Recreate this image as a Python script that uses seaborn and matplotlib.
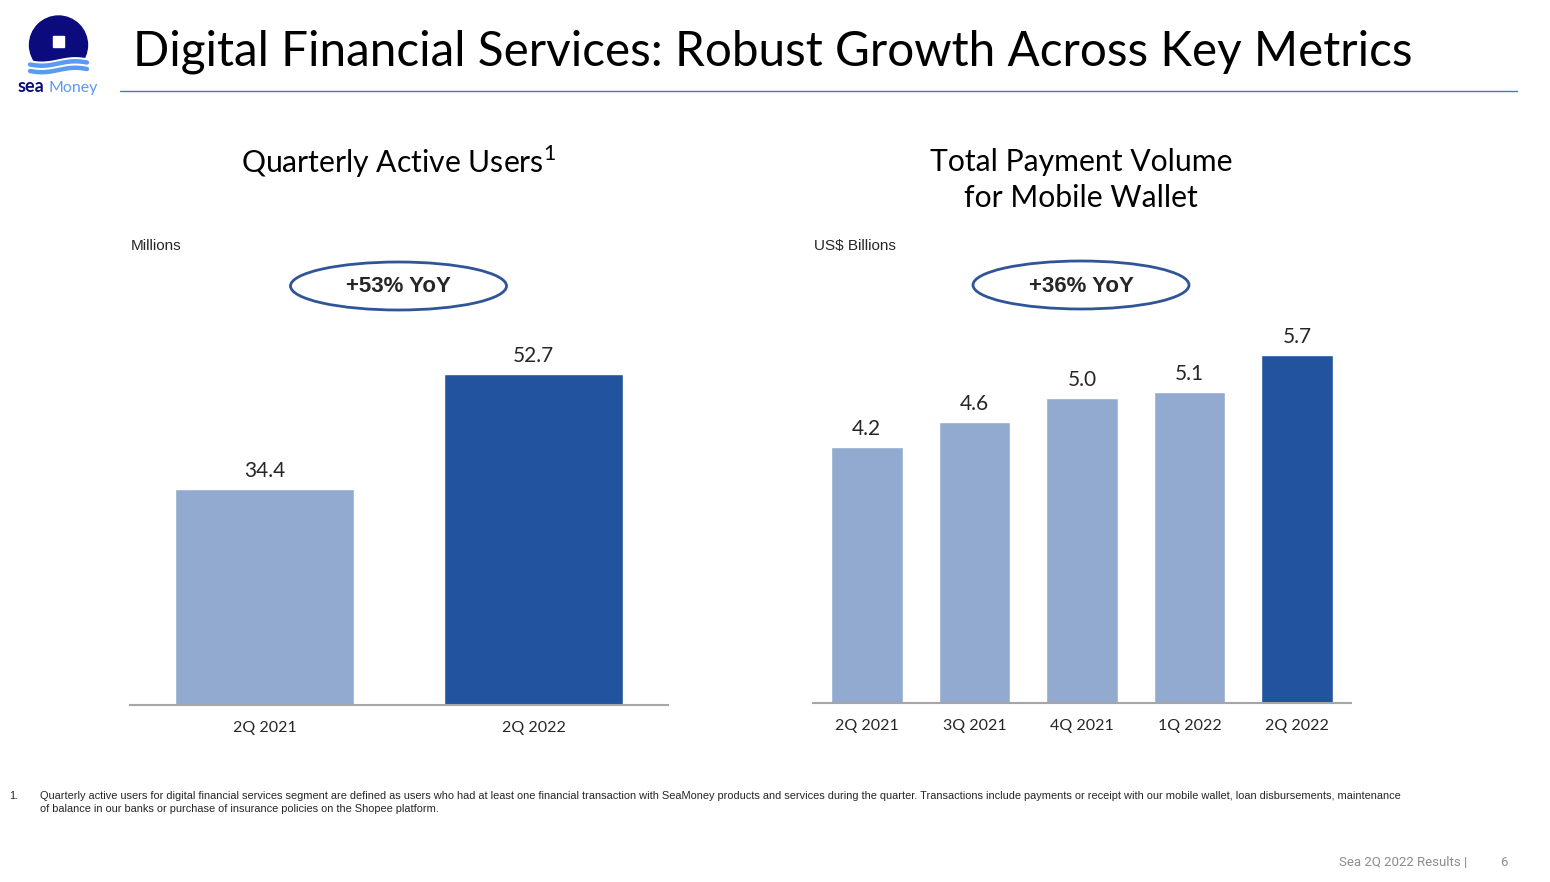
import numpy as np
import pandas as pd
import matplotlib
matplotlib.use('Agg')
import matplotlib.pyplot as plt
from matplotlib.patches import Ellipse, Circle, Rectangle, Polygon
import seaborn as sns

# data
qau_quarters = ['2Q 2021', '2Q 2022']
qau_values = [34.4, 52.7]          # millions of users
tpv_quarters = ['2Q 2021', '3Q 2021', '4Q 2021', '1Q 2022', '2Q 2022']
tpv_values = [4.2, 4.6, 5.0, 5.1, 5.7]   # US$ billions
qau_growth = '+53% YoY'
tpv_growth = '+36% YoY'

LIGHT = '#92AACF'
DARK = '#22539E'
NAVY = '#0B0B7E'
SKY = '#5A9BF2'

sns.set_theme(style='white')
plt.rcParams['font.family'] = ['Lato', 'DejaVu Sans']
plt.rcParams['mathtext.fontset'] = 'custom'
plt.rcParams['mathtext.rm'] = 'Lato'

W, H = 1550, 882
fig = plt.figure(figsize=(W / 100, H / 100), dpi=100)
fig.patch.set_facecolor('white')

# overlay in pixel coordinates for slide decoration
deco = fig.add_axes([0, 0, 1, 1])
deco.set_xlim(0, W)
deco.set_ylim(H, 0)
deco.axis('off')

deco.text(133, 52, 'Digital Financial Services: Robust Growth Across Key Metrics',
          fontsize=34.3, va='center', ha='left', color='black')
deco.plot([120, 1517], [91, 91], color='#4F72C0', lw=1)

# logo
deco.add_patch(Circle((58.5, 45), 29, color=NAVY, zorder=2))
xs = np.linspace(25, 92, 80)
wave_top = 60 + 2.2 * np.sin((xs - 25) / 67 * 2 * np.pi)
deco.add_patch(Polygon(np.column_stack([np.r_[xs, xs[::-1]], np.r_[wave_top, np.full_like(xs, 80)]]),
                       color='white', zorder=3))
deco.add_patch(Rectangle((53, 36), 11, 11, color='white', zorder=4))
for off in (3.5, 10):
    deco.plot(xs[6:-6], wave_top[6:-6] + off, color=SKY, lw=3.2, solid_capstyle='round', zorder=4)
deco.text(18, 87, 'sea', fontsize=13, fontweight='bold', color=NAVY, va='center', ha='left')
deco.text(49, 88, 'Money', fontsize=11.5, color=SKY, va='center', ha='left')

# subtitles
deco.text(399, 162, 'Quarterly Active Users$^{\\mathregular{1}}$', fontsize=21.7,
          ha='center', va='center', color='black')
deco.text(1081, 180, 'Total Payment Volume\nfor Mobile Wallet', fontsize=21.7,
          ha='center', va='center', color='black', linespacing=1.36)
deco.text(131, 246, 'Millions', fontsize=11, ha='left', va='center',
          family=['Liberation Sans', 'DejaVu Sans'])
deco.text(814, 246, 'US$ Billions', fontsize=11, ha='left', va='center',
          family=['Liberation Sans', 'DejaVu Sans'])

# YoY ovals
for cx, cy, txt in [(398.5, 286, qau_growth), (1081, 285, tpv_growth)]:
    deco.add_patch(Ellipse((cx, cy), 216, 48, fill=False, edgecolor='#2F5597', lw=2))
    deco.text(cx, cy + 1, txt, fontsize=16, fontweight='bold', ha='center', va='center',
              family=['Liberation Sans', 'DejaVu Sans'])

# footnote and footer
foot_fam = ['Liberation Sans Narrow', 'Liberation Sans', 'DejaVu Sans']
deco.text(9, 796, '1.', fontsize=7.95, va='center', ha='left', family=foot_fam)
deco.text(40, 796, 'Quarterly active users for digital financial services segment are defined as users who had at least one '
          'financial transaction with SeaMoney products and services during the quarter. Transactions include payments '
          'or receipt with our mobile wallet, loan disbursements, maintenance',
          fontsize=7.95, va='center', ha='left', family=foot_fam)
deco.text(40, 809, 'of balance in our banks or purchase of insurance policies on the Shopee platform.',
          fontsize=7.95, va='center', ha='left', family=foot_fam)
deco.text(1467, 863, 'Sea 2Q 2022 Results |', fontsize=9.5, color='#8C8C8C', ha='right', va='center',
          family=['Roboto', 'DejaVu Sans'])
deco.text(1504, 863, '6', fontsize=9.5, color='#8C8C8C', ha='center', va='center',
          family=['Roboto', 'DejaVu Sans'])


def bar_panel(left, base, width, top_val, px_per_unit, cats, vals):
    height = top_val * px_per_unit
    ax = fig.add_axes([left / W, (H - base) / H, width / W, height / H])
    df = pd.DataFrame({'quarter': cats, 'value': vals})
    colors = [LIGHT] * (len(cats) - 1) + [DARK]
    sns.barplot(data=df, x='quarter', y='value', hue='quarter', palette=colors,
                width=0.665, legend=False, saturation=1, ax=ax)
    ax.set_ylim(0, top_val)
    ax.set_xlim(-0.5, len(cats) - 0.5)
    for cont in ax.containers:
        ax.bar_label(cont, fmt='%.1f', padding=5.8, fontsize=15)
    ax.set_xlabel('')
    ax.set_ylabel('')
    ax.set_yticks([])
    ax.tick_params(axis='x', length=0, pad=11.5, labelsize=11.5)
    for s in ['top', 'right', 'left']:
        ax.spines[s].set_visible(False)
    ax.spines['bottom'].set_color('#A6A6A6')
    ax.spines['bottom'].set_linewidth(1.5)
    ax.patch.set_alpha(0)
    return ax


bar_panel(130, 705, 538, 60, 6.28, qau_quarters, qau_values)
bar_panel(813, 703, 538, 6.2, 61.0, tpv_quarters, tpv_values)

fig.savefig('out.png', dpi=100)
